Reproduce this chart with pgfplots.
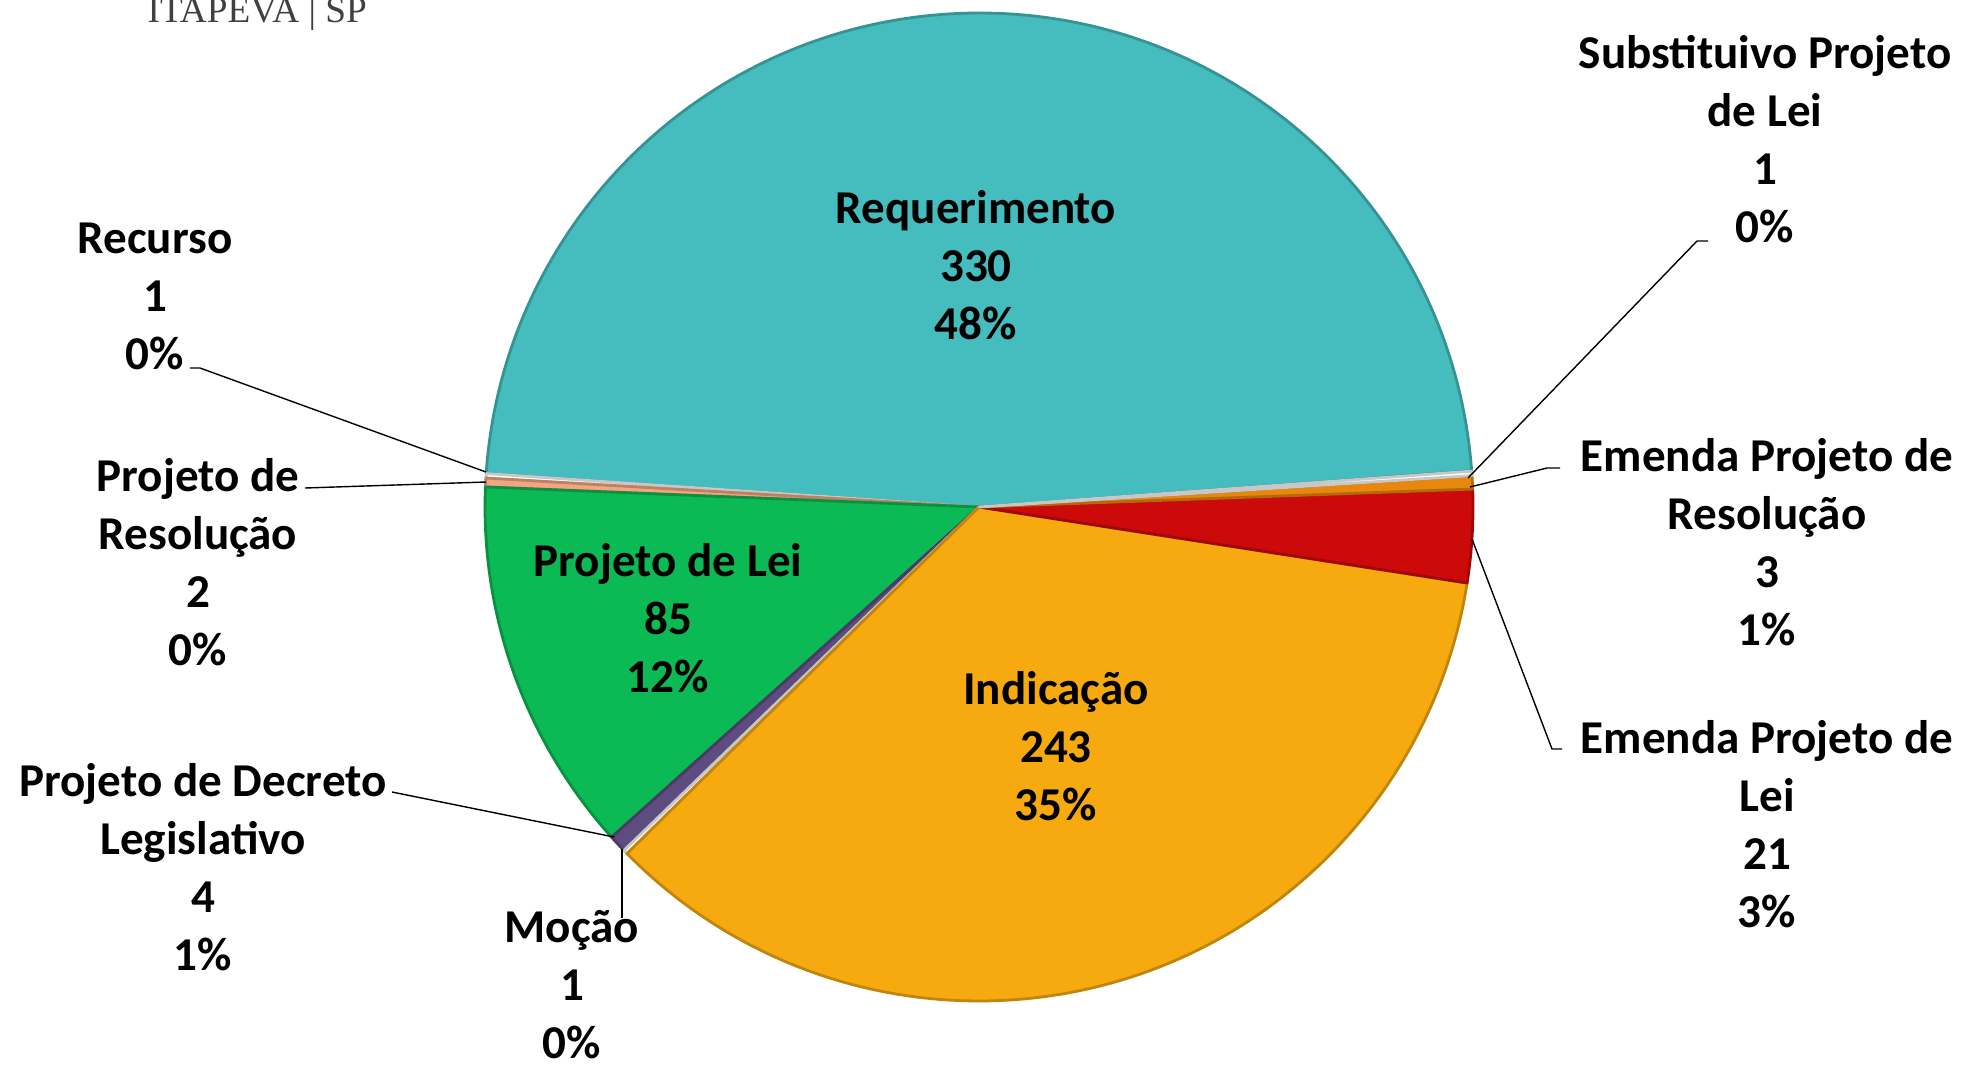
\documentclass[border=0pt]{standalone}
\usepackage{pgfplots}
\pgfplotsset{compat=1.18}
\usepackage{pgfplotstable}
\usepackage{fontspec}
\setmainfont{Carlito}
\newfontfamily\titlefont{Liberation Serif}

\definecolor{cReq}{HTML}{45BCBD}
\definecolor{cInd}{HTML}{F6AA10}
\definecolor{cPL}{HTML}{0CBA55}
\definecolor{cEPL}{HTML}{CC0A0A}
\definecolor{cEPR}{HTML}{E8870E}
\definecolor{cPDL}{HTML}{5E4C80}
\definecolor{cPR}{HTML}{F2A580}
\definecolor{cOne}{HTML}{FFFFFF}

% slices counter-clockwise, starting at the right edge of Requerimento
\pgfplotstableread{
label value color
Req  330 cReq
Rec  1   cOne
PR   2   cPR
PL   85  cPL
PDL  4   cPDL
Moc  1   cOne
Ind  243 cInd
EPL  21  cEPL
EPR  3   cEPR
Sub  1   cOne
}\pietable

\begin{document}
\begin{tikzpicture}
% total and slice angles
\xdef\pietotal{0}
\pgfplotstableforeachcolumnelement{value}\of\pietable\as\v{%
  \pgfmathsetmacro\t{\pietotal+\v}\xdef\pietotal{\t}}%
\xdef\cur{4.2}%
\foreach \i in {0,...,9}{%
  \pgfplotstablegetelem{\i}{value}\of\pietable
  \pgfmathsetmacro\nxt{\cur+\pgfplotsretval/\pietotal*360}%
  \expandafter\xdef\csname sA\i\endcsname{\cur}%
  \expandafter\xdef\csname sB\i\endcsname{\nxt}%
  \xdef\cur{\nxt}%
  \pgfplotstablegetelem{\i}{color}\of\pietable
  \expandafter\xdef\csname sC\i\endcsname{\pgfplotsretval}%
}
\tikzset{lab/.style={font=\fontsize{13.4}{16.5}\selectfont\bfseries, align=center, inner sep=0pt}}
\begin{axis}[
    hide axis,
    scale only axis,
    width=196.4mm, height=106.6mm,
    disabledatascaling,
    xmin=0, xmax=1964,
    ymin=0, ymax=1066,
    clip=false,
]
\coordinate (bl) at (axis cs:0,0);
\coordinate (tr) at (axis cs:1964,1066);
\pgfplotsinvokeforeach{0,...,9}{%
  \edef\tmp{\noexpand\filldraw[fill=\csname sC#1\endcsname,
      draw=\csname sC#1\endcsname!78!black, line width=0.8pt, line join=round]
    (axis cs:979,559) -- ++(\csname sA#1\endcsname:49.4mm)
    arc[start angle=\csname sA#1\endcsname, end angle=\csname sB#1\endcsname, radius=49.4mm] -- cycle;}%
  \tmp
}

% labels
\node[lab] at (axis cs:976,801) {Requerimento\\330\\48\%};
\node[lab] at (axis cs:1056,320) {Indicação\\243\\35\%};
\node[lab] at (axis cs:668,448) {Projeto de Lei\\85\\12\%};
\node[lab] at (axis cs:1765,927) {Substituivo Projeto\\de Lei\\1\\0\%};
\node[lab] at (axis cs:1767,524) {Emenda Projeto de\\Resolução\\3\\1\%};
\node[lab] at (axis cs:1767,242) {Emenda Projeto de\\Lei\\21\\3\%};
\node[lab] at (axis cs:155,770) {Recurso\\1\\0\%};
\node[lab] at (axis cs:198,504) {Projeto de\\Resolução\\2\\0\%};
\node[lab] at (axis cs:203,199) {Projeto de Decreto\\Legislativo\\4\\1\%};
\node[lab] at (axis cs:572,81) {Moção\\1\\0\%};

% leader lines
\draw[line width=0.4pt] (axis cs:190,698) -- (axis cs:200,698) -- (axis cs:486,594);
\draw[line width=0.4pt] (axis cs:305,578) -- (axis cs:486,584);
\draw[line width=0.4pt] (axis cs:392,274) -- (axis cs:614,229);
\draw[line width=0.4pt] (axis cs:622,148) -- (axis cs:622,217);
\draw[line width=0.4pt] (axis cs:1708,825) -- (axis cs:1697,825) -- (axis cs:1468,588);
\draw[line width=0.4pt] (axis cs:1560,598) -- (axis cs:1547,598) -- (axis cs:1470,579);
\draw[line width=0.4pt] (axis cs:1562,317) -- (axis cs:1552,317) -- (axis cs:1472,527);

\node[anchor=base west, font=\titlefont\fontsize{10.6}{12}\selectfont, text=black!75, inner sep=0pt]
  at (axis cs:147,1043) {ITAPEVA | SP};
\end{axis}
\pgfresetboundingbox
\path[use as bounding box] (bl) rectangle (tr);
\end{tikzpicture}
\end{document}
